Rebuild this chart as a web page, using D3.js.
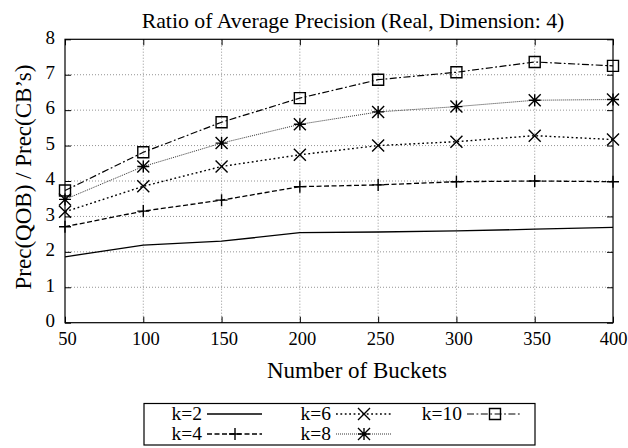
<!DOCTYPE html>
<html>
<head>
<meta charset="utf-8">
<style>
  body { margin: 0; background: #fff; }
  svg { display: block; font-family: "Liberation Serif", "Times New Roman", serif; }
</style>
</head>
<body>
<div id="chart"></div>
<script src="https://cdn.jsdelivr.net/npm/d3@7"></script>
<script>
// values
const buckets = [50, 100, 150, 200, 250, 300, 350, 400];
const k2  = [1.86, 2.19, 2.30, 2.54, 2.56, 2.59, 2.64, 2.69];
const k4  = [2.71, 3.15, 3.46, 3.84, 3.89, 3.98, 4.00, 3.98];
const k6  = [3.13, 3.85, 4.41, 4.74, 5.00, 5.11, 5.28, 5.17];
const k8  = [3.48, 4.41, 5.07, 5.60, 5.95, 6.10, 6.28, 6.30];
const k10 = [3.73, 4.81, 5.66, 6.34, 6.86, 7.07, 7.36, 7.25];
const seriesNames = ["k=2", "k=4", "k=6", "k=8", "k=10"];
const yTicks = [0, 1, 2, 3, 4, 5, 6, 7, 8];

const width = 628, height = 448;
const margin = {top: 39.3, right: 15, bottom: 125.3, left: 65};

const styles = {
  "k=2":  {dash: null,        marker: null,       color: "#000", lw: 1.3},
  "k=4":  {dash: "5,2.5",     marker: "plus",     color: "#000", lw: 1.3},
  "k=6":  {dash: "1.8,2.6",   marker: "cross",    color: "#000", lw: 1.4},
  "k=8":  {dash: "1,1",       marker: "asterisk", color: "#333", lw: 1},
  "k=10": {dash: "7,2.5,1.8,2.5", marker: "square", color: "#000", lw: 1.2}
};

const series = [k2, k4, k6, k8, k10].map((vals, i) => ({
  name: seriesNames[i],
  values: vals.map((v, j) => ({x: buckets[j], y: v}))
}));

const x = d3.scaleLinear()
    .domain([50, 400])
    .range([margin.left, width - margin.right]);

const y = d3.scaleLinear()
    .domain([0, 8])
    .range([height - margin.bottom, margin.top]);

const svg = d3.select("#chart").append("svg")
    .attr("width", width)
    .attr("height", height);

const x0 = x.range()[0], x1 = x.range()[1];
const y0 = y.range()[0], y1 = y.range()[1];

// grid (dotted)
const grid = svg.append("g")
    .attr("stroke", "#777")
    .attr("stroke-width", 0.8)
    .attr("stroke-dasharray", "1,2");
grid.selectAll(".gy")
  .data(yTicks.slice(1, -1))
  .join("line")
    .attr("x1", x0).attr("x2", x1)
    .attr("y1", d => y(d)).attr("y2", d => y(d));
grid.selectAll(".gx")
  .data(buckets.slice(1, -1))
  .join("line")
    .attr("x1", d => x(d)).attr("x2", d => x(d))
    .attr("y1", y0).attr("y2", y1);

// axes with inward ticks
svg.append("g")
    .attr("transform", `translate(0,${y0})`)
    .call(d3.axisBottom(x).tickValues(buckets).tickSizeInner(-6).tickSizeOuter(0).tickPadding(9))
    .call(g => g.select(".domain").remove())
    .call(g => g.selectAll("text").attr("font-size", 18.5).attr("dx", d => d === 400 ? 0 : 2)
        .attr("fill", "#000").attr("font-family", "Liberation Serif"));

svg.append("g")
    .attr("transform", `translate(0,${y1})`)
    .call(d3.axisTop(x).tickValues(buckets).tickSizeInner(-6).tickSizeOuter(0).tickFormat(""))
    .call(g => g.select(".domain").remove());

svg.append("g")
    .attr("transform", `translate(${x0},0)`)
    .call(d3.axisLeft(y).tickValues(yTicks).tickSizeInner(-6).tickSizeOuter(0).tickPadding(10))
    .call(g => g.select(".domain").remove())
    .call(g => g.selectAll("text").attr("font-size", 19).attr("dy", "0.2em")
        .attr("fill", "#000").attr("font-family", "Liberation Serif"));

svg.append("g")
    .attr("transform", `translate(${x1},0)`)
    .call(d3.axisRight(y).tickValues(yTicks).tickSizeInner(-6).tickSizeOuter(0).tickFormat(""))
    .call(g => g.select(".domain").remove());

svg.append("rect")
    .attr("x", x0).attr("y", y1)
    .attr("width", x1 - x0).attr("height", y0 - y1)
    .attr("fill", "none").attr("stroke", "#000").attr("stroke-width", 1.2);

// markers
function marker(type, s) {
  const p = d3.path();
  if (type === "plus" || type === "asterisk") {
    p.moveTo(-s, 0); p.lineTo(s, 0);
    p.moveTo(0, -s); p.lineTo(0, s);
  }
  if (type === "cross" || type === "asterisk") {
    p.moveTo(-s, -s); p.lineTo(s, s);
    p.moveTo(-s, s); p.lineTo(s, -s);
  }
  if (type === "square") {
    p.rect(-s, -s, 2 * s, 2 * s);
  }
  return p.toString();
}

const line = d3.line().x(d => x(d.x)).y(d => y(d.y));

const plot = svg.append("g");
series.forEach(s => {
  const st = styles[s.name];
  plot.append("path")
      .datum(s.values)
      .attr("fill", "none")
      .attr("stroke", st.color)
      .attr("stroke-width", st.lw)
      .attr("stroke-dasharray", st.dash)
      .attr("d", line);
  if (st.marker) {
    plot.selectAll(null)
      .data(s.values)
      .join("path")
        .attr("transform", d => `translate(${x(d.x)},${y(d.y)})`)
        .attr("d", marker(st.marker, st.marker === "square" ? 5.5 : 6))
        .attr("fill", "none")
        .attr("stroke", "#000")
        .attr("stroke-width", 1.4);
  }
});

// titles
svg.append("text")
    .attr("x", 353).attr("y", 28)
    .attr("text-anchor", "middle")
    .attr("font-size", 21.8)
    .text("Ratio of Average Precision (Real, Dimension: 4)");

svg.append("text")
    .attr("x", 357).attr("y", 378)
    .attr("text-anchor", "middle")
    .attr("font-size", 23)
    .text("Number of Buckets");

svg.append("text")
    .attr("transform", `translate(31,177) rotate(-90)`)
    .attr("text-anchor", "middle")
    .attr("font-size", 23)
    .text("Prec(QOB) / Prec(CB\u2019s)");

// legend
const legendPos = [
  {name: "k=2",  tx: 202, y: 414},
  {name: "k=4",  tx: 202, y: 434},
  {name: "k=6",  tx: 331, y: 414},
  {name: "k=8",  tx: 331, y: 434},
  {name: "k=10", tx: 462, y: 414}
];
const legend = svg.append("g");
legend.append("rect")
    .attr("x", 144).attr("y", 403.5)
    .attr("width", 391).attr("height", 41.5)
    .attr("fill", "none").attr("stroke", "#000").attr("stroke-width", 1.2);

legendPos.forEach(l => {
  const st = styles[l.name];
  legend.append("text")
      .attr("x", l.tx).attr("y", l.y + 6)
      .attr("text-anchor", "end")
      .attr("font-size", 19.5)
      .text(l.name);
  legend.append("line")
      .attr("x1", l.tx + 5).attr("x2", l.tx + 60)
      .attr("y1", l.y).attr("y2", l.y)
      .attr("stroke", st.color)
      .attr("stroke-width", st.lw)
      .attr("stroke-dasharray", st.dash);
  if (st.marker) {
    legend.append("path")
        .attr("transform", `translate(${l.tx + 33},${l.y})`)
        .attr("d", marker(st.marker, st.marker === "square" ? 5.5 : 6))
        .attr("fill", "none")
        .attr("stroke", "#000")
        .attr("stroke-width", 1.4);
  }
});
</script>
</body>
</html>
